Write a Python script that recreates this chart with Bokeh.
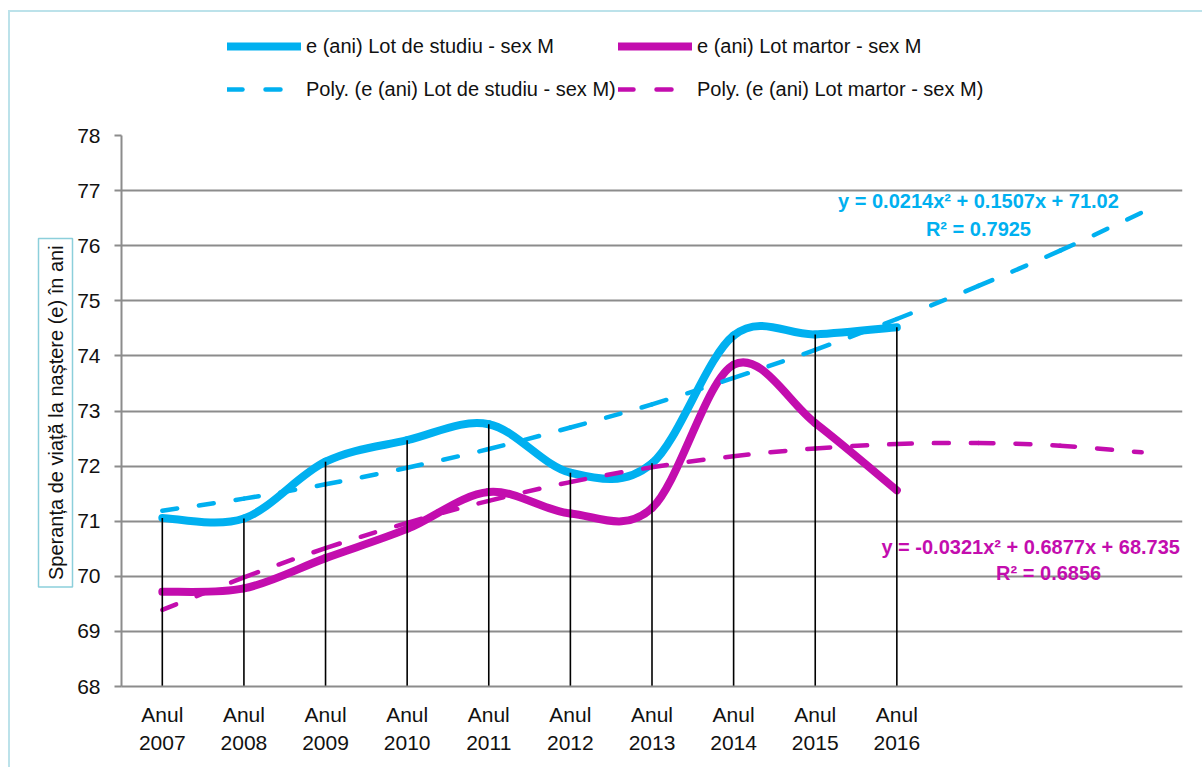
import numpy as np
from bokeh.plotting import figure
from bokeh.layouts import column, row
from bokeh.models import Range1d, FixedTicker, Legend, LegendItem, Label, ColumnDataSource
from bokeh.embed import file_html
from bokeh.resources import INLINE

# ---------------- data ----------------
years = ["2007", "2008", "2009", "2010", "2011", "2012", "2013", "2014", "2015", "2016"]
x_idx = [1, 2, 3, 4, 5, 6, 7, 8, 9, 10]
lot_studiu = [71.06, 71.05, 72.08, 72.47, 72.76, 71.88, 72.05, 74.37, 74.39, 74.52]
lot_martor = [69.72, 69.78, 70.33, 70.86, 71.53, 71.14, 71.24, 73.84, 72.78, 71.56]

# polynomial trend lines (Excel forecast 3 periods forward)
trend_x = [1, 2, 3, 4, 5, 6, 7, 8, 9, 10, 11, 12, 13]
trend_studiu = [71.19, 71.41, 71.67, 71.97, 72.31, 72.70, 73.12, 73.60, 74.11, 74.67, 75.27, 75.91, 76.60]
trend_martor = [69.39, 69.98, 70.51, 70.97, 71.37, 71.71, 71.98, 72.18, 72.32, 72.40, 72.42, 72.37, 72.25]

eq_studiu = ["y = 0.0214x² + 0.1507x + 71.02", "R² = 0.7925"]
eq_martor = ["y = -0.0321x² + 0.6877x + 68.735", "R² = 0.6856"]

names = ["e (ani) Lot de studiu - sex M", "e (ani) Lot martor - sex M",
         "Poly. (e (ani) Lot de studiu - sex M)", "Poly. (e (ani) Lot martor - sex M)"]
y_title = "Speranța de viață la naștere (e) în ani"

BLUE = "#00B0F0"
MAG = "#C30DAE"
GRID = "#8c8c8c"
FRAME_BLUE = "#BCE2EA"
FONT = "Liberation Sans"

W, H = 1202, 767
TOP_H = 125     # legend strip height
LEFT_W = 74     # y-title strip width


# --------------- smoothing (Excel-like bezier) ---------------
def bezier_segments(xs, ys):
    xs = np.asarray(xs, float)
    ys = np.asarray(ys, float)
    n = len(xs)
    d = dict(x0=[], y0=[], x1=[], y1=[], cx0=[], cy0=[], cx1=[], cy1=[])
    for i in range(n - 1):
        im = max(i - 1, 0)
        ip = min(i + 2, n - 1)
        d["x0"].append(xs[i]); d["y0"].append(ys[i])
        d["x1"].append(xs[i + 1]); d["y1"].append(ys[i + 1])
        d["cx0"].append(xs[i] + (xs[i + 1] - xs[im]) / 6.0)
        d["cy0"].append(ys[i] + (ys[i + 1] - ys[im]) / 6.0)
        d["cx1"].append(xs[i + 1] - (xs[ip] - xs[i]) / 6.0)
        d["cy1"].append(ys[i + 1] - (ys[ip] - ys[i]) / 6.0)
    return ColumnDataSource(d)


def blank_fig(w, h, bg):
    f = figure(width=w, height=h, x_range=Range1d(0, w), y_range=Range1d(0, h),
               output_backend="svg", toolbar_location=None,
               x_axis_location=None, y_axis_location=None,
               min_border=0, styles={"background": bg})
    f.grid.visible = False
    f.outline_line_color = None
    f.background_fill_alpha = 0
    f.border_fill_alpha = 0
    return f


line_v = "linear-gradient({c},{c}) 8px {t}px / 2px 100% no-repeat"
line_h = "linear-gradient({c},{c}) 8px 10px / 100% 2px no-repeat"

# ---------------- legend strip ----------------
top = blank_fig(W, TOP_H, ", ".join([line_v.format(c=FRAME_BLUE, t=10),
                                     line_h.format(c=FRAME_BLUE), "white"]))
# legend proxies: real lines kept outside the visible range of this strip
px, py = [-200, -100], [-200, -200]
r1 = top.line(x=px, y=py, line_color=BLUE, line_width=8, line_cap="round")
r2 = top.line(x=px, y=py, line_color=MAG, line_width=8, line_cap="round")
r3 = top.line(x=px, y=py, line_color=BLUE, line_width=4.5, line_dash="15 23", line_cap="round")
r4 = top.line(x=px, y=py, line_color=MAG, line_width=4.5, line_dash="15 23", line_cap="round")


def make_legend(items, loc):
    lg = Legend(items=items, location=loc, orientation="vertical")
    lg.glyph_width = 74
    lg.glyph_height = 20
    lg.label_height = 43
    lg.label_standoff = 5
    lg.spacing = 0
    lg.padding = 0
    lg.margin = 0
    lg.border_line_alpha = 0
    lg.background_fill_alpha = 0
    lg.label_text_font = FONT
    lg.label_text_font_size = "20px"
    lg.label_text_color = "#111111"
    return lg


top.add_layout(make_legend([LegendItem(label=names[0], renderers=[r1]),
                            LegendItem(label=names[2], renderers=[r3])], (227, 14.5)), "center")
top.add_layout(make_legend([LegendItem(label=names[1], renderers=[r2]),
                            LegendItem(label=names[3], renderers=[r4])], (618, 14.5)), "center")

# ---------------- y-title strip ----------------
MAIN_H = H - TOP_H
left = blank_fig(LEFT_W, MAIN_H, ", ".join([line_v.format(c=FRAME_BLUE, t=0), "white"]))
left.add_layout(Label(x=55, y=MAIN_H - 323, text=y_title, angle=90, angle_units="deg",
                      text_align="center", text_baseline="middle",
                      text_font=FONT, text_font_size="20px", text_color="#111111",
                      border_line_color="#8CCFDB", border_line_width=1.5,
                      background_fill_color="white", padding=(7, 6)))

# ---------------- main chart ----------------
y_min, y_max = 68, 78
p = figure(width=W - LEFT_W, height=MAIN_H,
           x_range=Range1d(0.5, 13.5), y_range=Range1d(y_min, y_max),
           output_backend="svg", toolbar_location=None,
           min_border_left=46, min_border_right=20,
           min_border_top=10, min_border_bottom=81)
p.outline_line_color = None
p.background_fill_color = "white"
p.border_fill_color = "white"

p.xgrid.grid_line_color = None
p.ygrid.grid_line_color = GRID
p.ygrid.grid_line_width = 2
p.ygrid.ticker = FixedTicker(ticks=list(range(y_min, y_max + 1)))

p.yaxis.ticker = FixedTicker(ticks=list(range(y_min, y_max + 1)))
p.yaxis.axis_line_color = GRID
p.yaxis.axis_line_width = 2
p.yaxis.major_tick_line_color = GRID
p.yaxis.major_tick_line_width = 2
p.yaxis.major_tick_out = 7
p.yaxis.major_tick_in = 0
p.yaxis.minor_tick_line_color = None
p.yaxis.major_label_standoff = 14
p.yaxis.major_label_text_font = FONT
p.yaxis.major_label_text_font_size = "21px"
p.yaxis.major_label_text_color = "#111111"

p.xaxis.ticker = FixedTicker(ticks=x_idx)
p.xaxis.major_label_overrides = {i: "Anul\n" + yr for i, yr in zip(x_idx, years)}
p.xaxis.axis_line_color = GRID
p.xaxis.axis_line_width = 2
p.xaxis.major_tick_line_color = None
p.xaxis.minor_tick_line_color = None
p.xaxis.major_label_standoff = 10
p.xaxis.major_label_text_font = FONT
p.xaxis.major_label_text_font_size = "21px"
p.xaxis.major_label_text_color = "#111111"
p.xaxis.major_label_text_line_height = 1.25

bz = dict(x0="x0", y0="y0", x1="x1", y1="y1", cx0="cx0", cy0="cy0", cx1="cx1", cy1="cy1")
p.bezier(source=bezier_segments(x_idx, lot_studiu), line_color=BLUE, line_width=8,
         line_cap="round", **bz)
p.bezier(source=bezier_segments(x_idx, lot_martor), line_color=MAG, line_width=8,
         line_cap="round", **bz)
p.bezier(source=bezier_segments(trend_x, trend_studiu), line_color=BLUE, line_width=4.5,
         line_dash="15 22", line_cap="round", **bz)
p.bezier(source=bezier_segments(trend_x, trend_martor), line_color=MAG, line_width=4.5,
         line_dash="15 22", line_cap="round", **bz)

drop_top = [max(a, b) for a, b in zip(lot_studiu, lot_martor)]
p.segment(x0=x_idx, y0=[y_min] * len(x_idx), x1=x_idx, y1=drop_top,
          line_color="black", line_width=1.6)

for txt, x, y, col in [(eq_studiu[0], 11.0, 76.82, BLUE), (eq_studiu[1], 11.0, 76.31, BLUE),
                       (eq_martor[0], 11.64, 70.53, MAG), (eq_martor[1], 11.86, 70.06, MAG)]:
    p.add_layout(Label(x=x, y=y, text=txt, text_align="center", text_baseline="middle",
                       text_font=FONT, text_font_style="bold", text_font_size="20px",
                       text_color=col))

layout = column(top, row(left, p, spacing=0), spacing=0)
open("out.html", "w").write(file_html(layout, INLINE))
